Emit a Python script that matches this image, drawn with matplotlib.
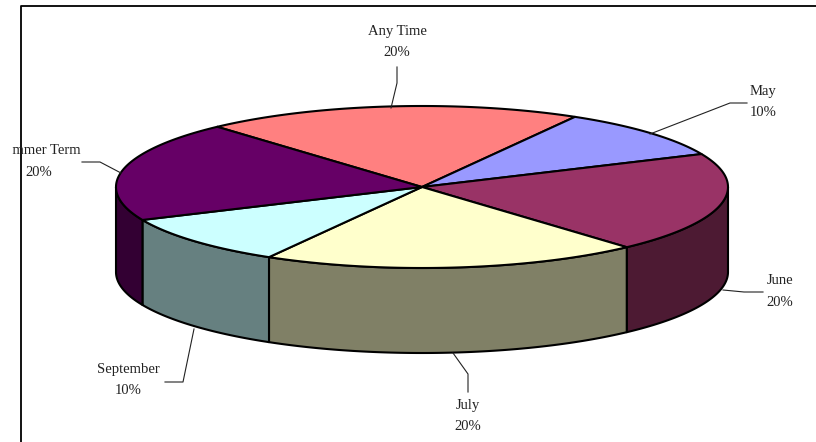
import numpy as np
import matplotlib
matplotlib.use('Agg')
import matplotlib.pyplot as plt
from matplotlib.patches import Polygon, Rectangle

categories = ['Any Time', 'May', 'June', 'July', 'September', 'Summer Term']
values = [20, 10, 20, 20, 10, 20]
top_colors = ['#FF8080', '#9999FF', '#993366', '#FFFFCC', '#CCFFFF', '#660066']
side_colors = ['#804040', '#4D4D80', '#4D1A33', '#808066', '#668080', '#330033']

# pie geometry in pixels
cx, cy = 422, 187
rx, ry = 306, 81
depth = 85
start_angle = 132

# label centres and leader lines, one per category
label_pos = [(397, 31), (763, 92), (780, 281), (468, 406), (128, 370), (39, 151)]
leaders = [
    [(391, 108), (397, 83), (397, 67)],
    [(650, 134), (730, 103), (747, 103)],
    [(723, 290), (744, 292), (763, 292)],
    [(453, 353), (468, 374), (468, 392)],
    [(194, 329), (183, 382), (165, 382)],
    [(121, 173), (100, 162), (82, 162)],
]
line_gap = 21

plt.rcParams['font.family'] = ['Liberation Serif', 'DejaVu Serif']

fig = plt.figure(figsize=(8.16, 4.42), dpi=100)
ax = fig.add_axes([0, 0, 1, 1])
ax.set_xlim(0, 816)
ax.set_ylim(442, 0)
ax.axis('off')


def arc(a0, a1, n=120):
    t = np.radians(np.linspace(a0, a1, n))
    return np.column_stack([cx + rx * np.cos(t), cy - ry * np.sin(t)])


# chart frame, only top and left edges show
ax.plot([20.5, 20.5, 816], [442, 5.5, 5.5], color='black', lw=1.3, zorder=1)

total = sum(values)
angles = start_angle - np.cumsum([0] + values) / total * 360

# side walls: only the part of each slice on the front half
for i in range(len(values)):
    a0 = min(angles[i], 0)
    a1 = max(angles[i + 1], -180)
    if a0 <= a1:
        continue
    upper = arc(a0, a1)
    lower = upper[::-1] + [0, depth]
    ax.add_patch(Polygon(np.vstack([upper, lower]), closed=True, facecolor=side_colors[i],
                         edgecolor='black', lw=1.5, joinstyle='round', zorder=2))

# top of the pie
for i in range(len(values)):
    pts = np.vstack([[cx, cy], arc(angles[i], angles[i + 1])])
    ax.add_patch(Polygon(pts, closed=True, facecolor=top_colors[i], edgecolor='black',
                         lw=1.5, joinstyle='round', zorder=3))

# labels, the left one is cut off in the original
clip = Rectangle((11.5, 0), 804, 442, transform=ax.transData)
for i, name in enumerate(categories):
    xs, ys = zip(*leaders[i])
    ax.plot(xs, ys, color='#222222', lw=0.8, zorder=4)
    x, y = label_pos[i]
    pct = '%d%%' % round(values[i] / total * 100)
    t1 = ax.text(x, y, name, ha='center', va='center', fontsize=10.5, color='#222222', zorder=5)
    t2 = ax.text(x, y + line_gap, pct, ha='center', va='center', fontsize=10.5, color='#222222', zorder=5)
    t1.set_clip_path(clip)
    t1.set_clip_on(True)
    t2.set_clip_on(False)

fig.savefig('out.png', dpi=100)
